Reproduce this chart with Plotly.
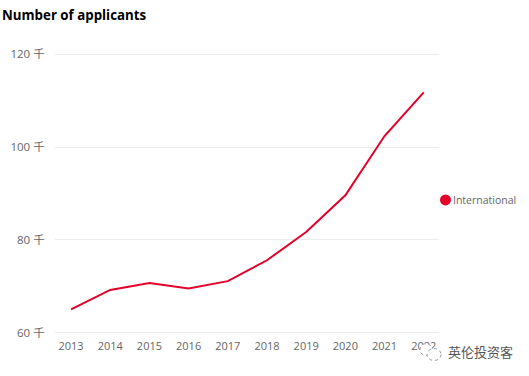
import plotly.graph_objects as go

W, H = 529, 376
years = ["2013", "2014", "2015", "2016", "2017", "2018", "2019", "2020", "2021", "2022"]
applicants = [65.0, 69.2, 70.7, 69.5, 71.1, 75.6, 81.7, 89.6, 102.4, 111.8]
y_ticks = [60, 80, 100, 120]
y_tick_labels = ["60 千", "80 千", "100 千", "120 千"]
series_name = "International"
title_text = "Number of applicants"
watermark = "英伦投资客"
RED = "#e4002b"
GREY = "#666666"
FONT = "Open Sans, Noto Sans CJK SC, sans-serif"

L, R, T, B = 55, 439, 52.6, 334.4


def px(x):
    return (x - L) / (R - L)


def py(y):
    return (B - y) / (B - T)


fig = go.Figure()
fig.add_trace(go.Scatter(x=list(range(len(years))), y=applicants, mode="lines",
                         line=dict(color=RED, width=2), showlegend=False,
                         hoverinfo="skip"))

fig.update_layout(
    width=W, height=H, autosize=False, paper_bgcolor="white", plot_bgcolor="white",
    margin=dict(l=L, r=W - R, t=T, b=H - B, pad=0),
    font=dict(family=FONT, color=GREY, size=11),
    title=dict(text=f"<b>{title_text}</b>", x=2 / W, xref="container", xanchor="left",
               y=1 - 15 / H, yref="container", yanchor="middle",
               font=dict(size=13.3, color="#000000", family=FONT)),
    xaxis=dict(range=[-0.41, 9.39], tickmode="array", tickvals=list(range(len(years))),
               ticktext=years, showgrid=False, zeroline=False, showline=False,
               automargin=False, ticks="outside", ticklen=2, tickcolor="rgba(0,0,0,0)",
               tickfont=dict(size=11, color=GREY)),
    yaxis=dict(range=[59.7, 120.3], tickmode="array", tickvals=y_ticks,
               ticktext=y_tick_labels, gridcolor="#ececec", gridwidth=1, zeroline=False,
               showline=False, automargin=False, ticks="outside", ticklen=7,
               tickcolor="rgba(0,0,0,0)", tickfont=dict(size=11.5, color=GREY)),
    showlegend=False,
    annotations=[
        dict(text=watermark, xref="paper", yref="paper", x=px(446), y=py(352),
             xanchor="left", yanchor="middle", showarrow=False,
             font=dict(size=13, color="#555555")),
        dict(text=series_name, xref="paper", yref="paper", x=px(451), y=py(200),
             xanchor="left", yanchor="middle", showarrow=False,
             font=dict(size=10.5, color=GREY)),
    ],
    shapes=[
        dict(type="circle", xref="paper", yref="paper", x0=px(440), x1=px(451),
             y0=py(205.5), y1=py(194.5), fillcolor=RED, line=dict(color=RED, width=0)),
        dict(type="circle", xref="paper", yref="paper", x0=px(420), x1=px(432),
             y0=py(356), y1=py(344), fillcolor="white",
             line=dict(color="#999999", width=1, dash="dot")),
        dict(type="circle", xref="paper", yref="paper", x0=px(427), x1=px(441),
             y0=py(361), y1=py(349), fillcolor="white",
             line=dict(color="#999999", width=1, dash="dot")),
    ],
)
fig.write_html("out.html", config={"displayModeBar": False},
               post_script="document.body.style.margin='0';")
